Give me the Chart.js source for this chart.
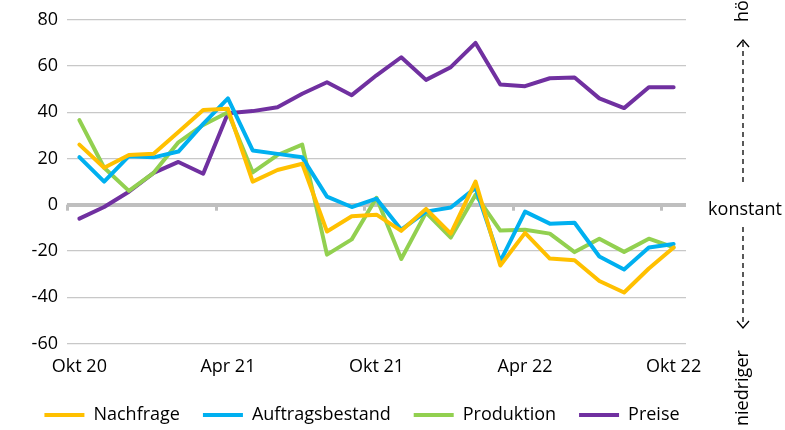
<!DOCTYPE html>
<html>
<head>
<meta charset="utf-8">
<script src="https://cdn.jsdelivr.net/npm/chart.js@4"></script>
<style>
  html, body { margin: 0; padding: 0; background: #fff; }
  #wrap { width: 785px; height: 430px; position: relative; }
</style>
</head>
<body>
<div id="wrap"><canvas id="chart"></canvas></div>
<script>
// Monatswerte Okt 20 - Okt 22
const months = ["Okt 20","Nov 20","Dez 20","Jan 21","Feb 21","Mär 21","Apr 21","Mai 21","Jun 21","Jul 21","Aug 21","Sep 21",
                "Okt 21","Nov 21","Dez 21","Jan 22","Feb 22","Mär 22","Apr 22","Mai 22","Jun 22","Jul 22","Aug 22","Sep 22","Okt 22"];
const nachfrage = [26, 16, 21.5, 22, 31.5, 41, 41.5, 10, 15, 17.7, -11.6, -5, -4.3, -11.3, -1.8, -12.5, 10, -26.3, -12.2, -23.3, -24, -33, -38, -27.6, -18.5];
const auftragsbestand = [20.6, 10, 21, 20.5, 23, 35, 46, 23.5, 22, 20.5, 3.5, -1, 2.6, -10.8, -3, -1.2, 7.3, -24.5, -3, -8.2, -7.8, -22.4, -28, -18.5, -17];
const produktion = [36.6, 16, 6, 13.8, 27, 34.5, 40, 14, 21.5, 26, -21.6, -15, 3, -23.5, -3.4, -14.2, 4.3, -11.2, -10.8, -12.5, -20.5, -14.7, -20.4, -14.7, -18.5];
const preise = [-6, -1, 5.6, 13.8, 18.5, 13.4, 39.6, 40.5, 42.2, 48, 53, 47.4, 56, 63.8, 54, 59.5, 70, 52, 51.3, 54.7, 55, 46, 41.8, 50.8, 50.8];

const labelEvery = 6;   // nur jede 6. Beschriftung
const yMin = -60, yMax = 80, yStep = 20;

const FONT = "'Open Sans', 'Noto Sans', sans-serif";

// Nulllinie mit kleinen Strichen + rechte Beschriftung (höher / konstant / niedriger)
const extras = {
  id: 'extras',
  beforeDatasetsDraw(chart) {
    const { ctx, scales: { x, y } } = chart;
    const y0 = y.getPixelForValue(0);
    const half = (x.getPixelForValue(1) - x.getPixelForValue(0)) / 2;
    ctx.save();
    ctx.fillStyle = '#bfbfbf';
    for (let i = 0; i < months.length; i += labelEvery) {
      const px = Math.round(x.getPixelForValue(i) - half);
      ctx.fillRect(px - 1, y0, 3, 6);
    }
    ctx.restore();
  },
  afterDraw(chart) {
    const { ctx, scales: { y } } = chart;
    const y0 = y.getPixelForValue(0);
    const cx = 743;
    ctx.save();
    ctx.fillStyle = '#000';
    ctx.strokeStyle = '#000';
    ctx.font = '18px ' + FONT;

    ctx.textAlign = 'center';
    ctx.textBaseline = 'middle';
    ctx.fillText('konstant', cx + 2, y0 + 5);

    // gedrehte Texte
    ctx.textAlign = 'left';
    ctx.save();
    ctx.translate(cx, 22);
    ctx.rotate(-Math.PI / 2);
    ctx.fillText('höher', 0, 0);
    ctx.restore();

    ctx.save();
    ctx.translate(cx, 426);
    ctx.rotate(-Math.PI / 2);
    ctx.fillText('niedriger', 0, 0);
    ctx.restore();

    // gestrichelte Pfeile
    ctx.lineWidth = 1.3;
    ctx.setLineDash([5, 4]);
    ctx.beginPath();
    ctx.moveTo(cx, 182); ctx.lineTo(cx, 42);
    ctx.moveTo(cx, 227); ctx.lineTo(cx, 326);
    ctx.stroke();
    ctx.setLineDash([]);
    ctx.beginPath();
    ctx.moveTo(cx - 6, 47); ctx.lineTo(cx, 40); ctx.lineTo(cx + 6, 47);
    ctx.moveTo(cx - 6, 321); ctx.lineTo(cx, 328); ctx.lineTo(cx + 6, 321);
    ctx.stroke();
    ctx.restore();
  }
};

function line(label, data, color) {
  return {
    label, data,
    borderColor: color,
    backgroundColor: color,
    borderWidth: 4,
    pointRadius: 0,
    tension: 0,
    borderJoinStyle: 'round',
    borderCapStyle: 'round',
    fill: false,
    yAxisID: 'y'
  };
}

new Chart(document.getElementById('chart'), {
  type: 'line',
  data: {
    labels: months,
    datasets: [
      line('Nachfrage', nachfrage, '#FFC000'),
      line('Auftragsbestand', auftragsbestand, '#00B0F0'),
      line('Produktion', produktion, '#92D050'),
      line('Preise', preise, '#7030A0')
    ]
  },
  options: {
    responsive: true,
    maintainAspectRatio: false,
    animation: false,
    layout: { padding: { left: 0, right: 61, top: 10, bottom: -4 } },
    scales: {
      x: {
        offset: true,
        grid: { display: false },
        border: { display: false },
        ticks: {
          autoSkip: false,
          maxRotation: 0,
          padding: 5,
          color: '#000',
          font: { family: FONT, size: 18, lineHeight: 1.2 },
          callback: (v, i) => (i % labelEvery === 0 ? months[i] : '')
        }
      },
      y: {
        min: yMin, max: yMax,
        ticks: {
          stepSize: yStep, padding: 9, color: '#000',
          font: { family: FONT, size: 18 },
          callback: v => String(v)
        },
        border: { display: false },
        grid: {
          drawTicks: false,
          color: ctx => (ctx.tick && ctx.tick.value === 0 ? '#bfbfbf' : '#c8c8c8'),
          lineWidth: ctx => (ctx.tick && ctx.tick.value === 0 ? 4 : 1.3)
        },
        afterFit: scale => { scale.width = 67; }
      },
      // leere Achse rechts, hält Platz für die Beschriftung frei
      yRight: {
        position: 'right',
        min: yMin, max: yMax,
        grid: { display: false },
        border: { display: false },
        ticks: { display: false },
        afterFit: scale => { scale.width = 38; }
      }
    },
    plugins: {
      legend: {
        position: 'bottom',
        labels: {
          boxWidth: 40,
          boxHeight: 4,
          padding: 23,
          color: '#000',
          font: { family: FONT, size: 18 },
          generateLabels: chart => chart.data.datasets.map((ds, i) => ({
            text: ds.label,
            fillStyle: ds.borderColor,
            strokeStyle: ds.borderColor,
            lineWidth: 0,
            hidden: false,
            datasetIndex: i,
            fontColor: '#000'
          }))
        }
      },
      tooltip: { enabled: false }
    }
  },
  plugins: [extras]
});
</script>
</body>
</html>
